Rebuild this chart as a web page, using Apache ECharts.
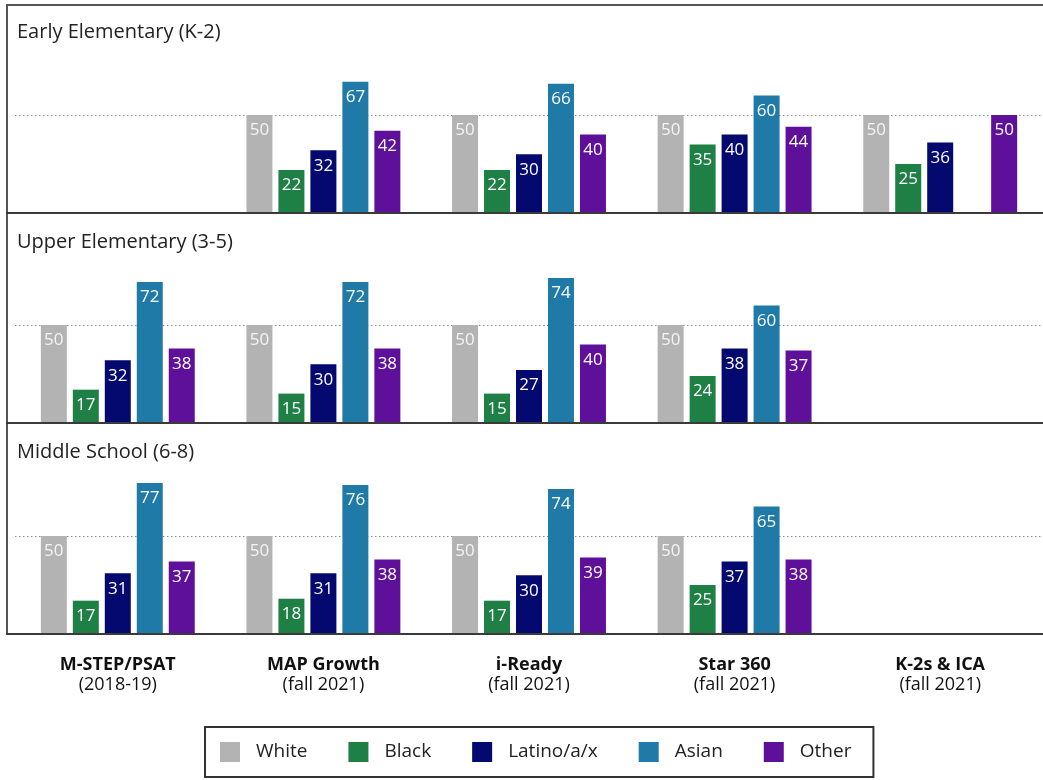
<!DOCTYPE html>
<html>
<head>
<meta charset="utf-8">
<script src="https://cdn.jsdelivr.net/npm/echarts@6/dist/echarts.min.js"></script>
<style>
  html, body { margin: 0; padding: 0; background: #fff; }
  #chart { width: 1043px; height: 780px; }
</style>
</head>
<body>
<div id="chart"></div>
<script>
// Assessments (x categories) and their administration periods
const tests = ['M-STEP/PSAT', 'MAP Growth', 'i-Ready', 'Star 360', 'K-2s & ICA'];
const periods = ['(2018-19)', '(fall 2021)', '(fall 2021)', '(fall 2021)', '(fall 2021)'];

const groups = ['White', 'Black', 'Latino/a/x', 'Asian', 'Other'];
const groupColors = ['#b3b3b3', '#1f8046', '#03096f', '#1f7aa7', '#5e109a'];

const panelTitles = ['Early Elementary (K-2)', 'Upper Elementary (3-5)', 'Middle School (6-8)'];

// Values per group, one entry per assessment (null = not reported)
const earlyWhite  = [null, 50, 50, 50, 50];
const earlyBlack  = [null, 22, 22, 35, 25];
const earlyLatino = [null, 32, 30, 40, 36];
const earlyAsian  = [null, 67, 66, 60, null];
const earlyOther  = [null, 42, 40, 44, 50];

const upperWhite  = [50, 50, 50, 50, null];
const upperBlack  = [17, 15, 15, 24, null];
const upperLatino = [32, 30, 27, 38, null];
const upperAsian  = [72, 72, 74, 60, null];
const upperOther  = [38, 38, 40, 37, null];

const middleWhite  = [50, 50, 50, 50, null];
const middleBlack  = [17, 18, 17, 25, null];
const middleLatino = [31, 31, 30, 37, null];
const middleAsian  = [77, 76, 74, 65, null];
const middleOther  = [37, 38, 39, 38, null];

const panels = [
  [earlyWhite, earlyBlack, earlyLatino, earlyAsian, earlyOther],
  [upperWhite, upperBlack, upperLatino, upperAsian, upperOther],
  [middleWhite, middleBlack, middleLatino, middleAsian, middleOther]
];

const FONT = '"Open Sans", "Noto Sans", sans-serif';
const PLOT_H = 196;
const baselines = [213, 423, 634];
const gridLeft = 15, gridWidth = 1031;

const grids = baselines.map(b => ({ left: gridLeft, width: gridWidth, top: b - PLOT_H, height: PLOT_H }));

const xAxes = panels.map((_, i) => ({
  type: 'category',
  gridIndex: i,
  data: tests,
  axisTick: { show: false },
  axisLine: { show: true, lineStyle: { color: '#3a3a3a', width: 2 } },
  axisLabel: i === 2 ? {
    show: true,
    margin: 21,
    interval: 0,
    formatter: (v, idx) => '{b|' + v + '}\n{n|' + periods[idx] + '}',
    rich: {
      b: { fontFamily: FONT, fontWeight: 'bold', fontSize: 18, color: '#111', lineHeight: 20 },
      n: { fontFamily: FONT, fontSize: 18, color: '#111', lineHeight: 20 }
    }
  } : { show: false }
}));

const yAxes = panels.map((_, i) => ({
  type: 'value',
  gridIndex: i,
  min: 0, max: 100, interval: 50,
  axisLabel: { show: false },
  axisLine: { show: false },
  axisTick: { show: false },
  splitLine: {
    show: true,
    lineStyle: { type: [1.5, 2.5], width: 1, color: ['rgba(0,0,0,0)', '#8a8a8a', 'rgba(0,0,0,0)'] }
  }
}));

const series = [];
panels.forEach((vals, p) => {
  vals.forEach((data, g) => {
    series.push({
      type: 'bar',
      name: groups[g],
      xAxisIndex: p,
      yAxisIndex: p,
      data: data,
      barWidth: 26,
      barGap: '23%',
      itemStyle: { color: groupColors[g] },
      label: {
        show: true,
        position: 'insideTop',
        distance: 7,
        color: g === 0 ? '#f4f4f4' : '#fff',
        fontFamily: FONT,
        fontSize: 17,
        fontWeight: 500
      },
      emphasis: { disabled: true },
      animation: false
    });
  });
});

const chart = echarts.init(document.getElementById('chart'), null, { renderer: 'canvas' });
chart.setOption({
  backgroundColor: '#fff',
  animation: false,
  title: panelTitles.map((t, i) => ({
    text: t,
    left: 12,
    top: [17, 227, 437][i],
    textStyle: { fontFamily: FONT, fontSize: 20, fontWeight: 'normal', color: '#222' }
  })),
  grid: grids,
  xAxis: xAxes,
  yAxis: yAxes,
  legend: {
    data: groups,
    left: 205,
    top: 727,
    orient: 'horizontal',
    itemWidth: 20,
    itemHeight: 20,
    itemGap: 41,
    padding: [15, 22, 15, 15],
    borderColor: '#333',
    borderWidth: 2,
    icon: 'rect',
    selectedMode: false,
    textStyle: { fontFamily: FONT, fontSize: 19, color: '#222', padding: [0, 0, 0, 11] }
  },
  graphic: [
    // outer frame: top and left edges, plus panel dividers
    { type: 'line', shape: { x1: 6, y1: 5, x2: 1043, y2: 5 }, style: { stroke: '#555', lineWidth: 2 }, z: 10 },
    { type: 'line', shape: { x1: 7, y1: 4, x2: 7, y2: 635 }, style: { stroke: '#555', lineWidth: 2 }, z: 10 },
    { type: 'line', shape: { x1: 6, y1: 213, x2: 1043, y2: 213 }, style: { stroke: '#3a3a3a', lineWidth: 2 }, z: 10 },
    { type: 'line', shape: { x1: 6, y1: 423, x2: 1043, y2: 423 }, style: { stroke: '#3a3a3a', lineWidth: 2 }, z: 10 },
    { type: 'line', shape: { x1: 6, y1: 634, x2: 1043, y2: 634 }, style: { stroke: '#3a3a3a', lineWidth: 2 }, z: 10 }
  ],
  series: series
});
</script>
</body>
</html>
